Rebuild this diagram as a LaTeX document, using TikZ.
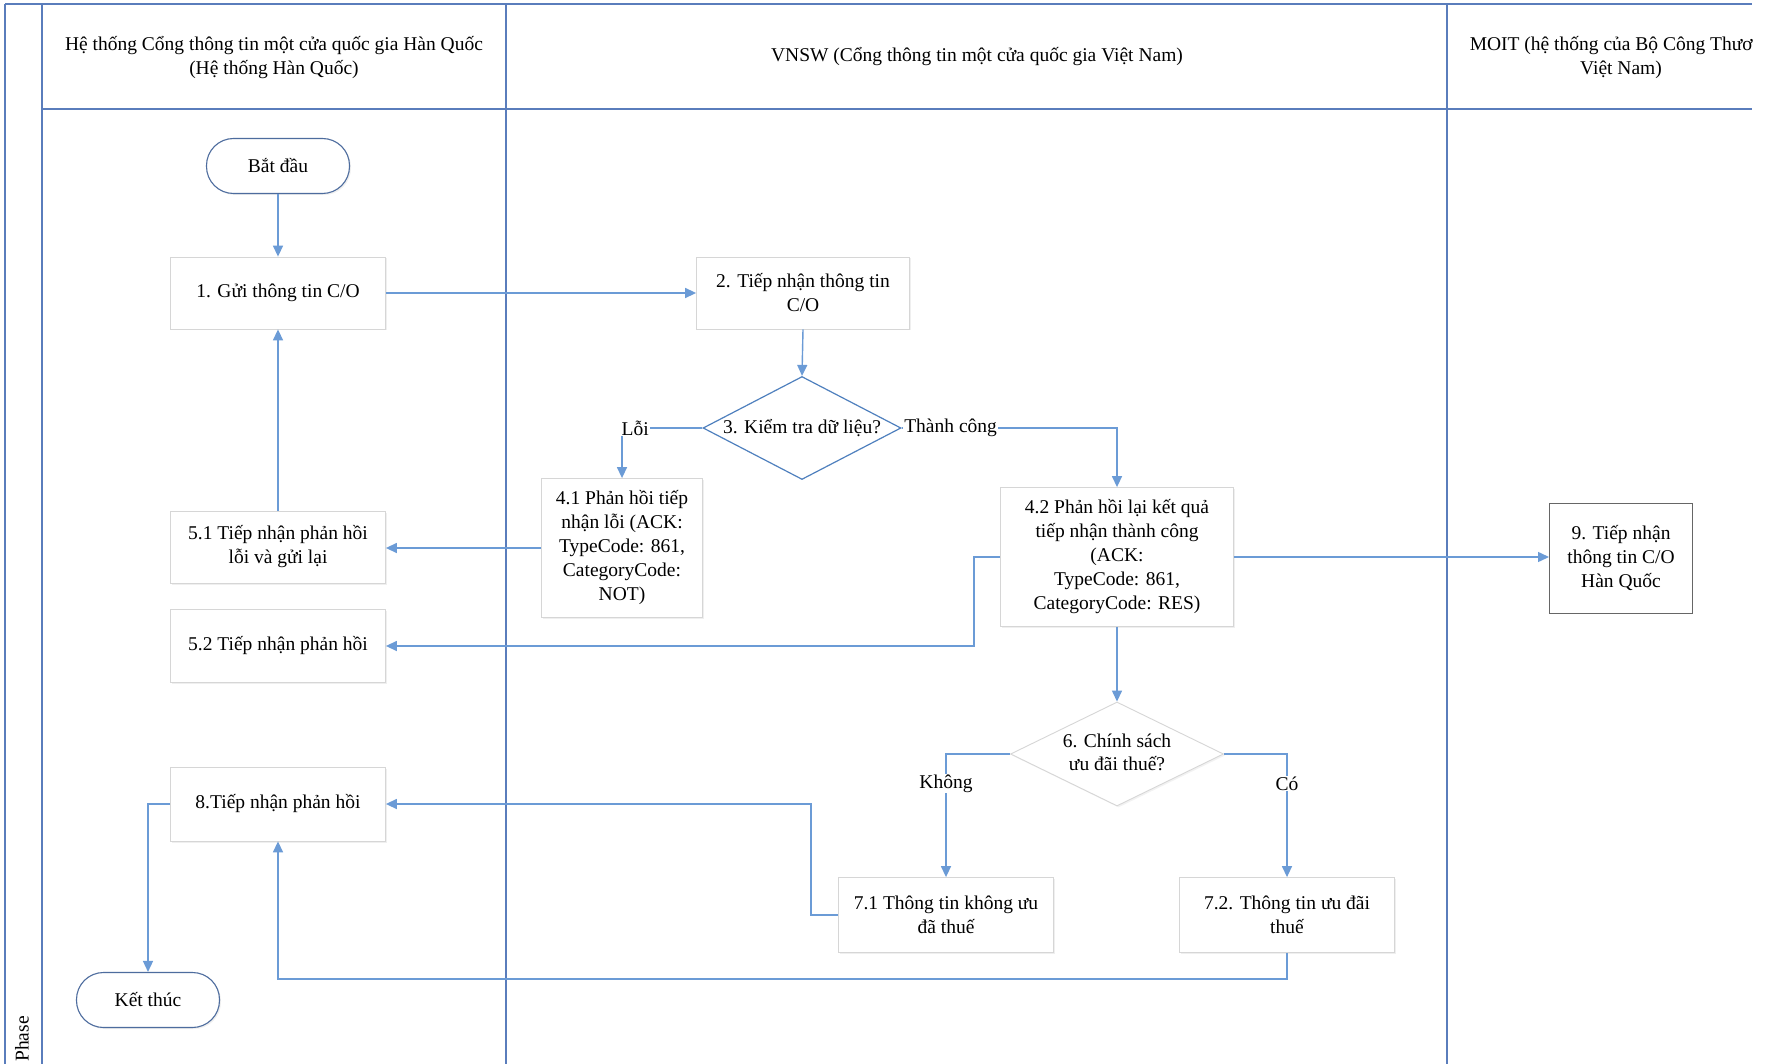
\documentclass[tikz,border=0pt]{standalone}
\usepackage{fontspec}
\setmainfont{Liberation Serif}
\usetikzlibrary{shapes.geometric,arrows.meta,shadows}
\definecolor{lanec}{HTML}{5A7DBC}
\definecolor{connc}{HTML}{6B9BD6}
\definecolor{diac}{HTML}{4F80BE}
\definecolor{termc}{HTML}{4D6C9E}
\definecolor{boxc}{HTML}{D6D6D6}
\newcommand\dfont{\fontsize{19.5}{24}\selectfont}
\tikzset{
  laneline/.style={draw=lanec, line width=1.8pt},
  hdr/.style={align=center, font=\dfont, inner sep=0pt},
  proc/.style={rectangle, draw=boxc, fill=white, line width=0.8pt,
    minimum width=215pt, minimum height=72pt, align=center, inner sep=2pt, font=\dfont,
    drop shadow={shadow xshift=1.5pt, shadow yshift=-1.5pt, opacity=0.12}},
  term/.style={rectangle, rounded corners=27pt, draw=termc, fill=white, line width=1.1pt,
    minimum width=143pt, minimum height=55pt, font=\dfont,
    drop shadow={shadow xshift=1.5pt, shadow yshift=-1.5pt, opacity=0.12}},
  dec/.style={diamond, draw=diac, fill=white, line width=1.2pt, inner sep=0pt, font=\dfont},
  conn/.style={draw=connc, line width=1.4pt, -{Triangle[length=11pt,width=10pt]}},
  lbl/.style={fill=white, inner sep=1pt, font=\dfont},
}
\begin{document}
\begin{tikzpicture}[x=1pt,y=-1pt]
\useasboundingbox (0,0) rectangle (1777,1064);
\fill[white] (0,0) rectangle (1777,1064);
\begin{scope}
\clip (0,0) rectangle (1752,1064);
\draw[laneline] (5,4) -- (1752,4);
\draw[laneline] (5,4) -- (5,1064);
\draw[laneline] (42,4) -- (42,1064);
\draw[laneline] (506,4) -- (506,1064);
\draw[laneline] (1447,4) -- (1447,1064);
\draw[laneline] (42,109) -- (1752,109);
\node[hdr] (hA) at (274,58) {Hệ thống Cổng thông tin một cửa quốc gia Hàn Quốc\\(Hệ thống Hàn Quốc)};
\node[hdr] (hB) at (977,57) {VNSW (Cổng thông tin một cửa quốc gia Việt Nam)};
\node[hdr] (hC) at (1621,58) {MOIT (hệ thống của Bộ Công Thương\\Việt Nam)};
\node[hdr, rotate=90] (phase) at (22,1039) {Phase};
\end{scope}

% nodes
\node[term] (start) at (278,166) {Bắt đầu};
\node[proc] (n1) at (278,293) {1. Gửi thông tin C/O};
\node[proc, minimum width=213pt] (n2) at (803,293) {2. Tiếp nhận thông tin\\C/O};
\node[dec, minimum width=198pt, minimum height=103pt] (d3) at (802,428) {\makebox[0pt]{3. Kiểm tra dữ liệu?}};
\node[proc, minimum width=161pt, minimum height=139pt] (n41) at (622,548) {4.1 Phản hồi tiếp\\nhận lỗi (ACK:\\TypeCode: 861,\\CategoryCode:\\NOT)};
\node[proc, minimum width=233pt, minimum height=139pt] (n42) at (1117,557) {4.2 Phản hồi lại kết quả\\tiếp nhận thành công\\(ACK:\\TypeCode: 861,\\CategoryCode: RES)};
\node[proc] (n51) at (278,547) {5.1 Tiếp nhận phản hồi\\lỗi và gửi lại};
\node[proc, minimum height=73pt] (n52) at (278,646) {5.2 Tiếp nhận phản hồi};
\node[rectangle, draw=black!60, fill=white, line width=1pt, minimum width=143pt, minimum height=110pt, align=center, font=\dfont] (n9) at (1621,558) {9. Tiếp nhận\\thông tin C/O\\Hàn Quốc};
\node[dec, draw=boxc, line width=0.9pt, minimum width=213pt, minimum height=104pt,
  drop shadow={shadow xshift=1.5pt, shadow yshift=-1.5pt, opacity=0.10}] (d6) at (1117,754)
  {\makebox[0pt]{\begin{tabular}{@{}c@{}}6. Chính sách\\[-1pt]ưu đãi thuế?\end{tabular}}};
\node[proc, minimum height=75pt] (n71) at (946,915) {7.1 Thông tin không ưu\\đã thuế};
\node[proc, minimum height=75pt] (n72) at (1287,915) {7.2. Thông tin ưu đãi\\thuế};
\node[proc, minimum height=74pt] (n8) at (278,804) {8.Tiếp nhận phản hồi};
\node[term] (end) at (148,1000) {Kết thúc};

% connectors
\draw[conn] (start.south) -- (n1.north);
\draw[conn] (n1.east) -- (n2.west);
\draw[conn] (n2.south) -- (d3.north);
\draw[conn] (d3.west) -| node[lbl, pos=0.5, anchor=west, xshift=-2pt] {Lỗi} (n41.north);
\draw[conn] (d3.east) -| node[lbl, pos=0, anchor=west, xshift=1pt] {Thành công} (n42.north);
\draw[conn] (n41.west) -- (n41.west -| n51.east);
\draw[conn] (n51.north) -- (n1.south);
\draw[conn] (n42.west) -- ++(-26,0) |- (n52.east);
\draw[conn] (n42.east) -- (n42.east -| n9.west);
\draw[conn] (n42.south) -- (d6.north);
\draw[conn] (d6.west) -| node[lbl, pos=0.62] {Không} (n71.north);
\draw[conn] (d6.east) -| node[lbl, pos=0.62] {Có} (n72.north);
\draw[conn] (n71.west) -- ++(-27,0) |- (n8.east);
\draw[conn] (n72.south) -- ++(0,26) -| (n8.south);
\draw[conn] (n8.west) -| (end.north);
\end{tikzpicture}
\end{document}
